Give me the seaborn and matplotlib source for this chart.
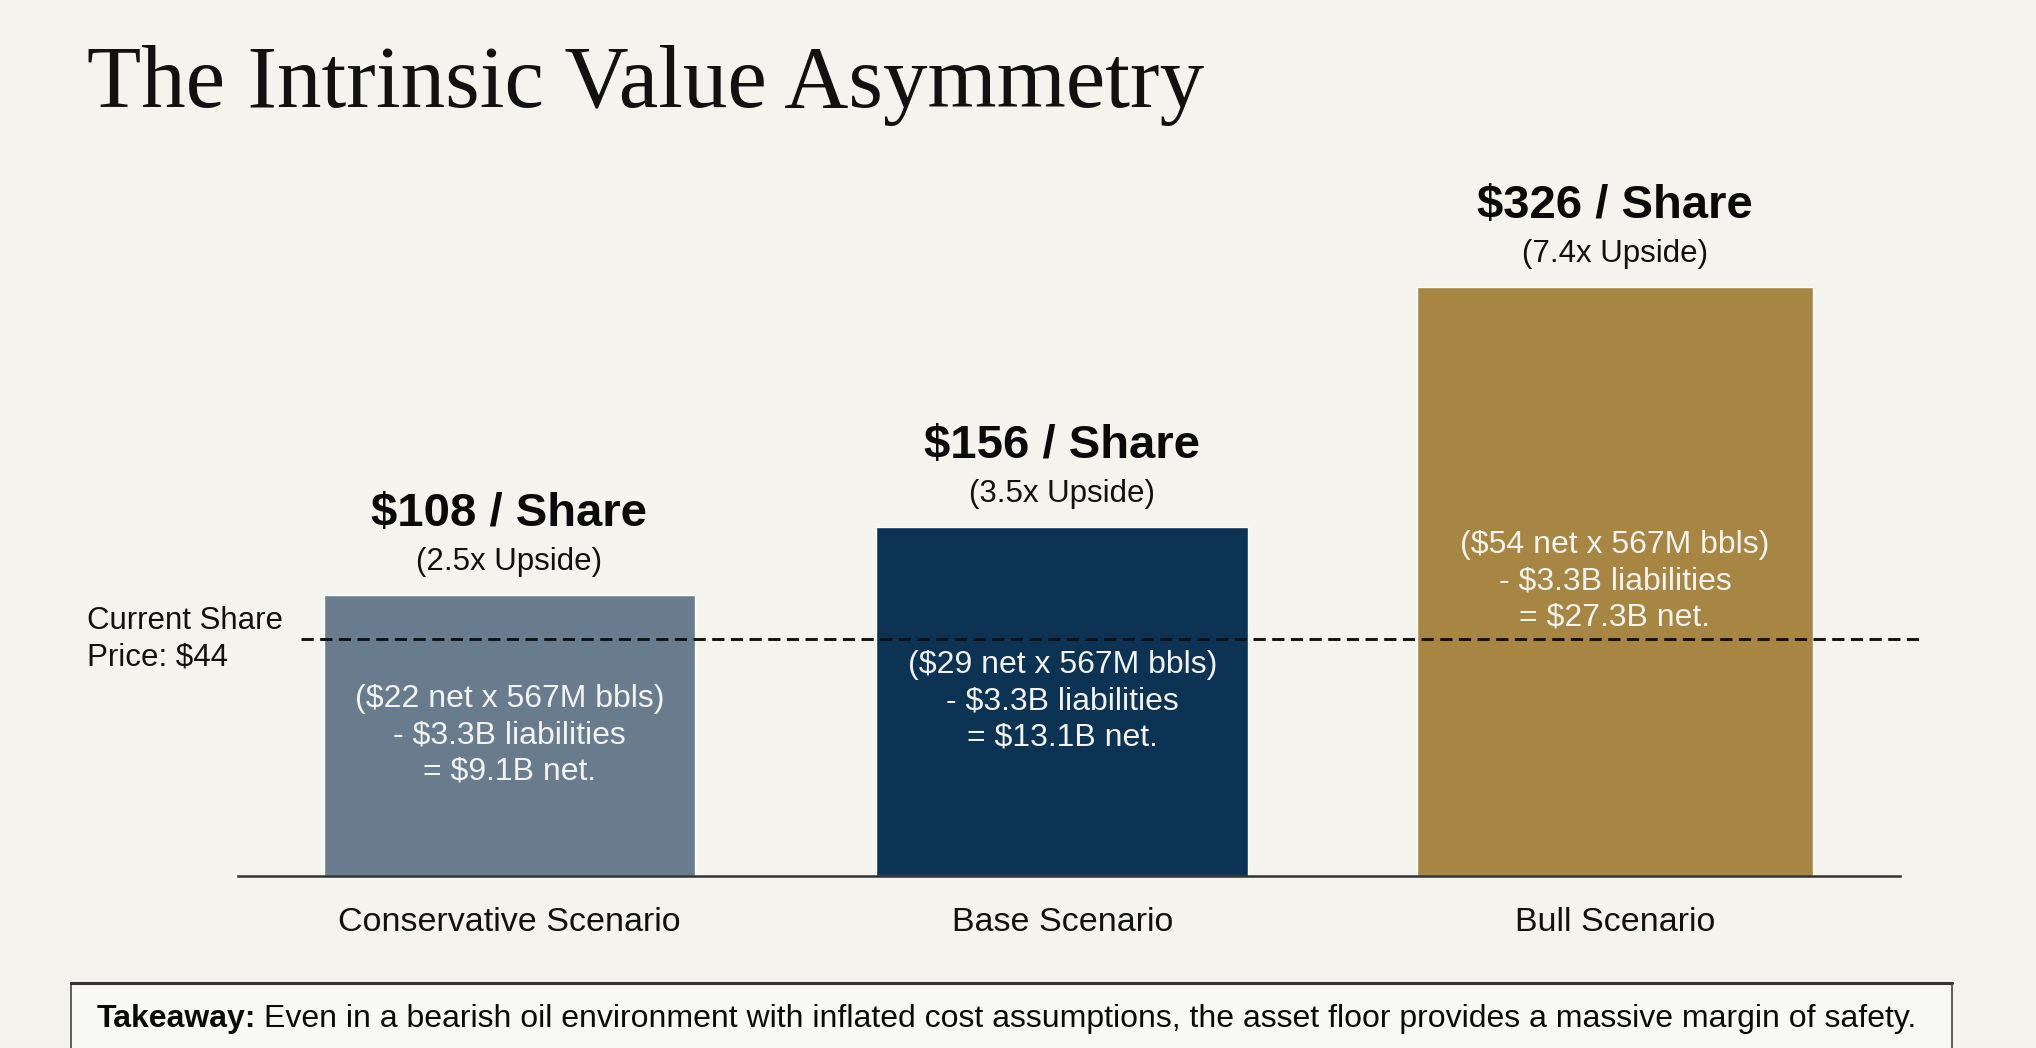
import matplotlib
matplotlib.use('Agg')
import matplotlib.pyplot as plt
import matplotlib.transforms as mtransforms
from matplotlib.patches import Rectangle
import seaborn as sns

# data
scenarios = ['Conservative Scenario', 'Base Scenario', 'Bull Scenario']
per_share = [108, 156, 326]
upside = [2.5, 3.5, 7.4]
net_per_bbl = [22, 29, 54]
net_value_b = [9.1, 13.1, 27.3]
reserves_m = 567
liabilities_b = 3.3
current_price = 44
# drawn bar heights in the same units as the price line
# (the original chart is not drawn to scale)
bar_height = [52.2, 64.8, 109.4]

colors = ['#687c8e', '#0c3254', '#a68642']
bar_widths = [0.672, 0.672, 0.716]
bg = '#f4f3ee'

sns.set_theme(style='white')
plt.rcParams['font.family'] = ['Liberation Sans', 'DejaVu Sans']

fig = plt.figure(figsize=(20.36, 10.48), dpi=100, facecolor=bg)
ax = fig.add_axes([0.1009, 0.1641, 0.8552, 0.6927])
ax.set_facecolor(bg)

sns.barplot(x=scenarios, y=bar_height, hue=scenarios, palette=colors,
            width=0.68, saturation=1, legend=False, ax=ax)
# the bull bar is a bit wider in the original
for i, p in enumerate(ax.patches[:3]):
    cx = p.get_x() + p.get_width() / 2
    p.set_width(bar_widths[i])
    p.set_x(cx - bar_widths[i] / 2)

ax.set_xlim(-0.55, 2.6)
ax.set_ylim(0, 134.8)

for s in ['left', 'top', 'right']:
    ax.spines[s].set_visible(False)
ax.spines['bottom'].set_bounds(-0.491, 2.516)
ax.spines['bottom'].set_color('#333333')
ax.spines['bottom'].set_linewidth(1.8)
ax.set_yticks([])
ax.tick_params(axis='x', length=0, pad=22, labelsize=24.5, labelcolor='#111111')
ax.set_xlabel('')
ax.set_ylabel('')

# current share price line
ax.plot([-0.377, 2.552], [current_price, current_price], color='#111111',
        lw=2.1, ls=(0, (4.2, 2.2)), zorder=3, clip_on=False)
trans = mtransforms.blended_transform_factory(fig.transFigure, ax.transData)
ax.text(87 / 2036, current_price, 'Current Share\nPrice: \\$' + str(current_price),
        transform=trans, ha='left', va='center', fontsize=22.5,
        color='#111111', linespacing=1.3)

for i, h in enumerate(bar_height):
    ax.annotate('\\$%d / Share' % per_share[i], (i, h), xytext=(0, 58),
                textcoords='offset points', ha='center', va='center',
                fontsize=34, fontweight='bold', color='#0a0a0a')
    ax.annotate('(%.1fx Upside)' % upside[i], (i, h), xytext=(0, 24),
                textcoords='offset points', ha='center', va='center',
                fontsize=22.5, color='#111111')
    inner = ('(\\$%d net x %dM bbls)\n- \\$%.1fB liabilities\n= \\$%.1fB net.'
             % (net_per_bbl[i], reserves_m, liabilities_b, net_value_b[i]))
    ax.text(i, h * 0.5, inner, ha='center', va='center', fontsize=23,
            color='#f2f2ee', linespacing=1.27, zorder=4)

# title
fig.text(87 / 2036, 1 - 107 / 1048, 'The Intrinsic Value Asymmetry',
         family=['Liberation Serif', 'DejaVu Serif'], fontsize=64,
         color='#111111', va='baseline', ha='left')

# takeaway box
box = Rectangle((71 / 2036, -0.02), (1952 - 71) / 2036, 0.02 + (1048 - 983) / 1048,
                transform=fig.transFigure, facecolor='#f8f8f5', edgecolor='#444444',
                lw=1.2, zorder=0)
fig.patches.append(box)
fig.add_artist(plt.Line2D([71 / 2036, 1952 / 2036], [(1048 - 983) / 1048] * 2,
                          transform=fig.transFigure, color='#333333', lw=2.2))
ty = 1 - 1019 / 1048
t1 = fig.text(97 / 2036, ty, 'Takeaway:', fontsize=23, fontweight='bold',
              color='#0a0a0a', va='center', ha='left')
fig.canvas.draw()
bb = t1.get_window_extent()
fig.text((bb.x1 + 7) / 2036, ty,
         'Even in a bearish oil environment with inflated cost assumptions, '
         'the asset floor provides a massive margin of safety.',
         fontsize=23, color='#0a0a0a', va='center', ha='left')

fig.savefig('out.png', dpi=100, facecolor=bg)
